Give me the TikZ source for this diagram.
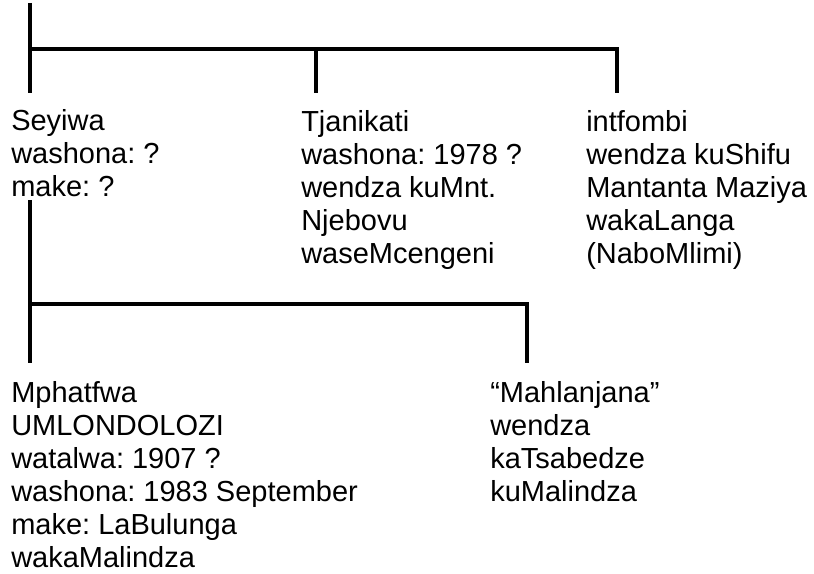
\documentclass[tikz,border=0pt]{standalone}
\usepackage{fontspec}
\setmainfont{Liberation Sans}
\frenchspacing
\begin{document}
\begin{tikzpicture}[x=0.75pt,y=-0.75pt,
  person/.style={anchor=base west,inner sep=0pt,align=left,
    font=\fontsize{21.75pt}{24.75pt}\selectfont\frenchspacing},
  link/.style={line width=2.7pt,black}]
\useasboundingbox (0,0) rectangle (814,574);
% nodes (positioned by the baseline of their last line; 33px line pitch)
\node[person] (seyiwa) at (11,197) {Seyiwa\\washona: ?\\make: ?};
\node[person] (tjan) at (301,263) {Tjanikati\\washona: 1978 ?\\wendza kuMnt.\\Njebovu\\waseMcengeni};
\node[person] (intf) at (586,263) {intfombi\\wendza kuShifu\\Mantanta Maziya\\wakaLanga\\(NaboMlimi)};
\node[person] (mph) at (11,567) {Mphatfwa\\UMLONDOLOZI\\watalwa: 1907 ?\\washona: 1983 September\\make: LaBulunga\\wakaMalindza};
\node[person] (mahl) at (490,501) {“Mahlanjana”\\wendza\\kaTsabedze\\kuMalindza};
% coordinates
\coordinate (ptop) at (30,3);
\coordinate (pbot) at (30,93);
\coordinate (bl) at (30,49);
\coordinate (bm) at (316,49);
\coordinate (br) at (617,49);
\coordinate (tjtop) at (316,93);
\coordinate (intop) at (617,93);
\coordinate (stop) at (30,200);
\coordinate (sbot) at (30,363);
\coordinate (sl) at (30,304);
\coordinate (sr) at (527,304);
\coordinate (mahtop) at (527,363);
% connectors
\draw[link] (ptop) -- (pbot);
\draw[link] (bl) -- (br) -- (intop);
\draw[link] (bm) -- (tjtop);
\draw[link] (stop) -- (sbot);
\draw[link] (sl) -- (sr) -- (mahtop);
\end{tikzpicture}
\end{document}
